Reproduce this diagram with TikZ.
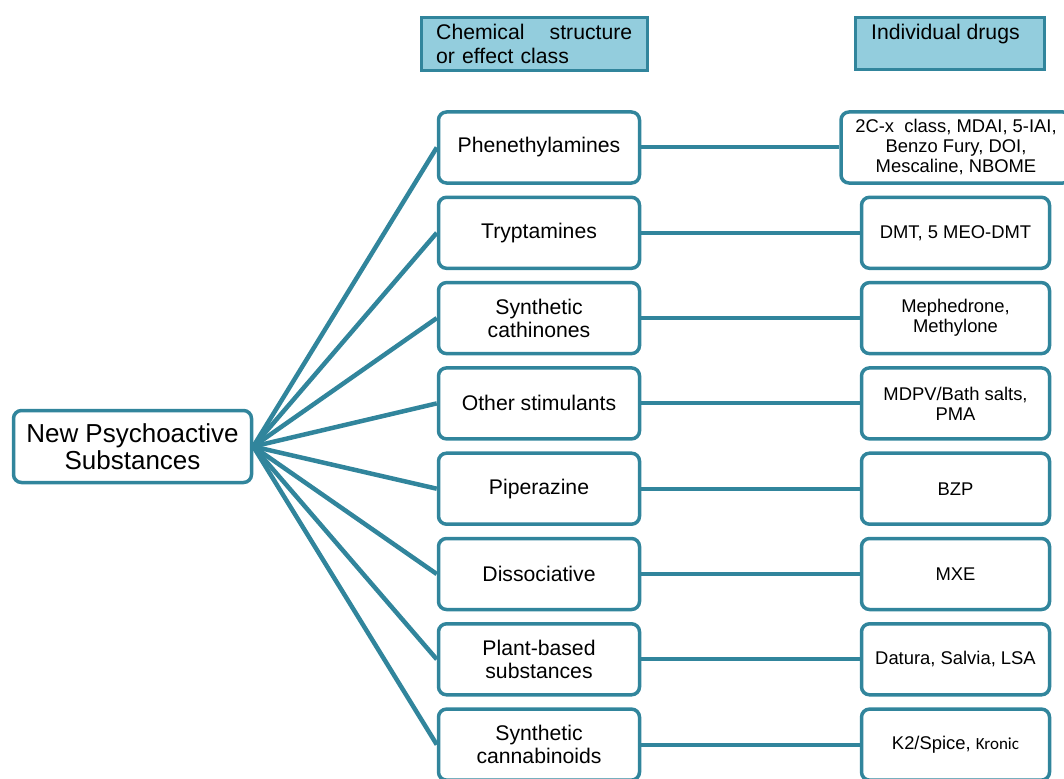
\documentclass[tikz,border=0pt]{standalone}
\usepackage{fontspec}
\setmainfont{Liberation Sans}
\newfontfamily\calib{Carlito}
\definecolor{tealline}{RGB}{49,133,156}
\definecolor{hdrfill}{RGB}{147,205,221}
\begin{document}
\begin{tikzpicture}[x=1pt,y=-1pt,
  box/.style={draw=tealline, line width=3.5pt, rounded corners=8pt, fill=white, align=center, inner sep=0pt},
  midbox/.style={box, minimum width=201pt, minimum height=71pt, font=\fontsize{21.2}{23}\selectfont},
  drugbox/.style={box, minimum width=188pt, minimum height=71pt, font=\fontsize{18.4}{20}\selectfont},
  rootbox/.style={box, minimum width=238pt, minimum height=72pt, font=\fontsize{26}{27.5}\selectfont},
  hdrbox/.style={draw=tealline, fill=hdrfill, line width=3.5pt, inner sep=0pt},
  hdrtext/.style={font=\fontsize{21.2}{23.5}\selectfont, inner sep=0pt, anchor=base west},
  fan/.style={draw=tealline, line width=4.5pt},
  link/.style={draw=tealline, line width=4pt}]
\useasboundingbox (0,0) rectangle (1064,778);
\clip (0,0) rectangle (1064,778);

% headers
\node[hdrbox, minimum width=226pt, minimum height=53pt] (h1) at (534.5,44) {};
\node[hdrtext, text width=196pt, align=left] (h1t) at (436,40) {Chemical\hfill structure\\or effect class};
\node[hdrbox, minimum width=189pt, minimum height=52pt] (h2) at (950,43.5) {};
\node[hdrtext] (h2t) at (871,40) {Individual drugs};

% root
\node[rootbox] (root) at (132.5,446.5) {New Psychoactive\\Substances};

% middle column
\node[midbox] (m1) at (539,147.5) {Phenethylamines};
\node[midbox] (m2) at (539,232.8) {Tryptamines};
\node[midbox] (m3) at (539,318.1) {Synthetic\\cathinones};
\node[midbox] (m4) at (539,403.4) {Other stimulants};
\node[midbox] (m5) at (539,488.7) {Piperazine};
\node[midbox] (m6) at (539,574.0) {Dissociative};
\node[midbox] (m7) at (539,659.3) {Plant-based\\substances};
\node[midbox] (m8) at (539,744.6) {Synthetic\\cannabinoids};

% right column
\node[drugbox, minimum width=230pt] (r1) at (956,147.5) {2C-x\ \ class, MDAI, 5-IAI,\\Benzo Fury, DOI,\\Mescaline, NBOME};
\node[drugbox] (r2) at (955.5,232.8) {DMT, 5 MEO-DMT};
\node[drugbox] (r3) at (955.5,318.1) {Mephedrone,\\Methylone};
\node[drugbox] (r4) at (955.5,403.4) {MDPV/Bath salts,\\PMA};
\node[drugbox] (r5) at (955.5,488.7) {BZP};
\node[drugbox] (r6) at (955.5,574.0) {MXE};
\node[drugbox] (r7) at (955.5,659.3) {Datura, Salvia, LSA};
\node[drugbox] (r8) at (955.5,744.6) {K2/Spice, {\calib\fontsize{17}{19}\selectfont Kronic}};

% connectors
\foreach \i in {1,...,8} {
  \draw[fan] (root.east) -- (m\i.west);
  \draw[link] (m\i.east) -- (r\i.west);
}
\end{tikzpicture}
\end{document}
